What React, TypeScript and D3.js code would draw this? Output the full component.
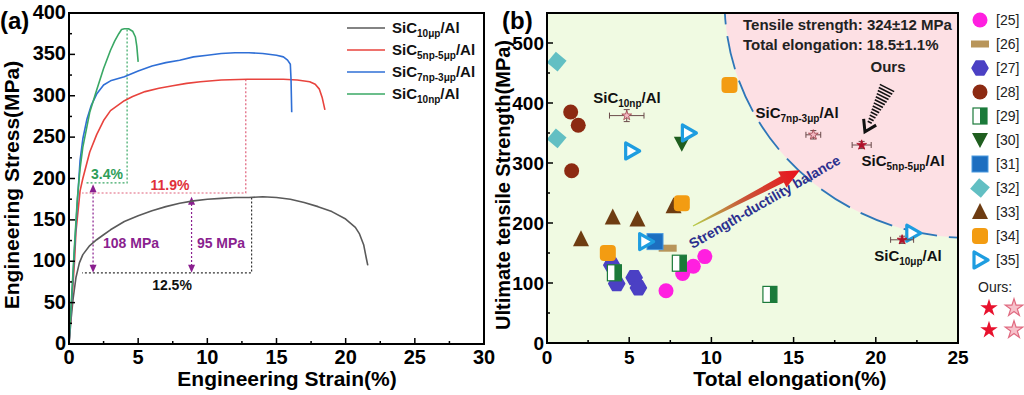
import React from 'react';
import * as d3 from 'd3';

type P = [number, number];

// ---------- Panel (a) data ----------
const strainTicks = [0, 5, 10, 15, 20, 25, 30];
const stressTicks = [0, 50, 100, 150, 200, 250, 300, 350, 400];

const curve10up: P[] = [[0,0],[0.15,30],[0.3,55],[0.5,80],[0.75,98],[1.0,108],[1.5,119],[2,126],[2.5,132],[3,138],[4,148],[5,155],[6,161],[7,166],[8,170],[9,173],[10,175],[11,176],[12,177],[13,177],[14,178],[15,177],[16,175],[17,171],[18,166],[19,160],[20,151],[20.7,141],[21.0,133],[21.3,120],[21.5,103],[21.6,95]];
const curve5np5up: P[] = [[0,0],[0.2,50],[0.4,100],[0.5,135],[0.8,185],[1.0,200],[1.5,232],[2,253],[2.5,270],[3,282],[4,294],[4.6,299],[5.5,305],[6.5,309],[7.5,312],[8.5,315],[9.5,317],[11,319],[12.9,320],[14,320],[15.5,320],[16.5,319],[17.4,317],[17.8,314],[18.1,308],[18.3,298],[18.5,283]];
const curve7np3up: P[] = [[0,0],[0.2,55],[0.4,115],[0.6,170],[0.8,222],[1.0,248],[1.3,272],[1.6,288],[2,302],[2.5,313],[3,318],[4,323],[5,330],[6,336],[7,340],[8,343],[9,347],[10,349],[11,351],[12,352],[13,352],[14,351],[15,349],[15.5,347],[15.8,343],[16.0,338],[16.05,320],[16.1,280]];
const curve10np: P[] = [[0,0],[0.2,60],[0.4,120],[0.6,175],[0.8,212],[1.0,238],[1.5,280],[2,307],[2.5,333],[3,355],[3.3,366],[3.6,375],[3.8,380],[4.0,381],[4.3,381],[4.6,378],[4.8,371],[4.9,360],[5.0,341]];

const seriesA = [
  { main: 'SiC', sub: '10\u03bcp', tail: '/Al', color: '#5a5a5a', data: curve10up },
  { main: 'SiC', sub: '5np-5\u03bcp', tail: '/Al', color: '#e8433d', data: curve5np5up },
  { main: 'SiC', sub: '7np-3\u03bcp', tail: '/Al', color: '#2f6fd6', data: curve7np3up },
  { main: 'SiC', sub: '10np', tail: '/Al', color: '#3aa865', data: curve10np },
];

// ---------- Panel (b) data ----------
const elongTicks = [0, 5, 10, 15, 20, 25];
const utsTicks = [0, 100, 200, 300, 400, 500];

const ref25: P[] = [[7.24,87],[8.25,116],[8.9,128],[9.6,144]];
const ref26: P[] = [[7.34,158]];
const ref27: P[] = [[3.94,130],[4.24,99],[5.3,109],[5.56,92]];
const ref28: P[] = [[1.44,385],[1.9,363],[1.5,287]];
const ref29: P[] = [[4.1,117],[8.05,133],[13.56,81]];
const ref30: P[] = [[8.2,332]];
const ref31: P[] = [[6.57,169]];
const ref32: P[] = [[0.59,469],[0.59,341]];
const ref33: P[] = [[2.07,173],[4.0,209],[5.5,206],[7.7,228]];
const ref34: P[] = [[11.1,430],[8.2,233],[3.7,150]];
const ref35: P[] = [[5.15,320],[8.6,350],[6.0,169],[22.25,183]];

const refs = [
  { label: '[25]', type: 'circleM', data: ref25 },
  { label: '[26]', type: 'bar', data: ref26 },
  { label: '[27]', type: 'hex', data: ref27 },
  { label: '[28]', type: 'circleB', data: ref28 },
  { label: '[29]', type: 'half', data: ref29 },
  { label: '[30]', type: 'down', data: ref30 },
  { label: '[31]', type: 'square', data: ref31 },
  { label: '[32]', type: 'diamond', data: ref32 },
  { label: '[33]', type: 'up', data: ref33 },
  { label: '[34]', type: 'rsquare', data: ref34 },
  { label: '[35]', type: 'right', data: ref35 },
];

const oursElong = [4.85, 16.2, 19.14, 21.6];
const oursElongErr = [1.05, 0.45, 0.58, 0.7];
const oursUts = [379, 347, 330, 172];
const oursUtsErr = [10, 7, 6, 6];
const oursFilled = [false, false, true, true];

const FONT = '"Liberation Sans", Arial, Helvetica, sans-serif';

function Sub({ x, y, main, sub, tail, size = 15, subSize = 10, anchor = 'start' as any, fill = '#111' }: any) {
  return (
    <text x={x} y={y} fontSize={size} fontWeight="bold" textAnchor={anchor} fill={fill}>
      {main}
      <tspan fontSize={subSize} dy={4}>{sub}</tspan>
      <tspan dy={-4}>{tail}</tspan>
    </text>
  );
}

function Marker({ type, cx, cy }: { type: string; cx: number; cy: number }) {
  switch (type) {
    case 'circleM':
      return <circle cx={cx} cy={cy} r={7.5} fill="#ff1fe0" />;
    case 'circleB':
      return <circle cx={cx} cy={cy} r={7.5} fill="#8c2a12" />;
    case 'bar':
      return <rect x={cx - 9} y={cy - 3.5} width={18} height={7} fill="#b8955a" />;
    case 'hex': {
      const pts = d3.range(6).map((i) => {
        const a = (Math.PI / 3) * i;
        return `${cx + 8 * Math.cos(a)},${cy + 8 * Math.sin(a)}`;
      });
      return <polygon points={pts.join(' ')} fill="#4b40c4" stroke="#4b40c4" strokeWidth={1.5} strokeLinejoin="round" />;
    }
    case 'half':
      return (
        <g>
          <rect x={cx - 7} y={cy - 8} width={14} height={16} fill="#fff" stroke="#1b7a3a" strokeWidth={1.2} />
          <rect x={cx} y={cy - 8} width={7} height={16} fill="#1b7a3a" />
        </g>
      );
    case 'down':
      return <polygon points={`${cx - 8},${cy - 7} ${cx + 8},${cy - 7} ${cx},${cy + 8}`} fill="#1f5e1f" />;
    case 'up':
      return <polygon points={`${cx - 8},${cy + 7} ${cx + 8},${cy + 7} ${cx},${cy - 9}`} fill="#6e3c12" />;
    case 'square':
      return <rect x={cx - 8} y={cy - 8} width={16} height={16} fill="#1c6ec0" stroke="#4a9ae0" strokeWidth={1} />;
    case 'diamond':
      return <rect x={cx - 7} y={cy - 7} width={14} height={14} fill="#62bfc3" transform={`rotate(40 ${cx} ${cy})`} />;
    case 'rsquare':
      return <rect x={cx - 8} y={cy - 8} width={16} height={16} rx={4} fill="#f39c12" />;
    case 'right':
      return <polygon points={`${cx - 6},${cy - 8} ${cx - 6},${cy + 8} ${cx + 8},${cy}`} fill="#fff" stroke="#1e9de0" strokeWidth={3.2} strokeLinejoin="round" />;
    default:
      return null;
  }
}

export default function App() {
  const xA = d3.scaleLinear().domain([0, 30]).range([69, 484]);
  const yA = d3.scaleLinear().domain([0, 400]).range([344, 13]);
  const xB = d3.scaleLinear().domain([0, 25]).range([547, 958]);
  const yB = d3.scaleLinear().domain([0, 550]).range([343, 13]);

  const lineA = d3.line<P>().x((d) => xA(d[0])).y((d) => yA(d[1]));

  const minorX = d3.range(2.5, 30, 5);
  const minorYA = d3.range(25, 400, 50);
  const minorXB = d3.range(2.5, 25, 5);
  const minorYB = d3.range(50, 550, 100);

  // strength-ductility arrow
  const S = { x: xB(8.88), y: yB(195) };
  const E = { x: xB(15.39), y: yB(288) };
  const L = Math.hypot(E.x - S.x, E.y - S.y);
  const u = { x: (E.x - S.x) / L, y: (E.y - S.y) / L };
  const n = { x: -u.y, y: u.x };
  const B = { x: E.x - u.x * 20, y: E.y - u.y * 20 };
  const arrowPts = [
    [S.x + n.x * 0.6, S.y + n.y * 0.6],
    [B.x + n.x * 3.5, B.y + n.y * 3.5],
    [B.x + n.x * 9, B.y + n.y * 9],
    [E.x, E.y],
    [B.x - n.x * 9, B.y - n.y * 9],
    [B.x - n.x * 3.5, B.y - n.y * 3.5],
    [S.x - n.x * 0.6, S.y - n.y * 0.6],
  ].map((p) => p.join(',')).join(' ');

  // "Ours" striped arrow
  const OS = { x: xB(20.68), y: yB(425) };
  const OE = { x: xB(19.34), y: yB(352) };
  const OL = Math.hypot(OE.x - OS.x, OE.y - OS.y);
  const ou = { x: (OE.x - OS.x) / OL, y: (OE.y - OS.y) / OL };
  const on = { x: -ou.y, y: ou.x };
  const stripeEnd = OL - 9;
  const stripes = d3.range(0, stripeEnd, 3.2).map((t) => {
    const w = 8 - (t / stripeEnd) * 6;
    const c = { x: OS.x + ou.x * t, y: OS.y + ou.y * t };
    return { x1: c.x + on.x * w, y1: c.y + on.y * w, x2: c.x - on.x * w, y2: c.y - on.y * w };
  });
  const chev = `${OE.x - ou.x * 11 + on.x * 7},${OE.y - ou.y * 11 + on.y * 7} ${OE.x},${OE.y} ${OE.x - ou.x * 11 - on.x * 7},${OE.y - ou.y * 11 - on.y * 7}`;

  const starFilled = d3.symbol(d3.symbolStar, 95)()!;
  const starSmall = d3.symbol(d3.symbolStar, 30)()!;

  const purple = '#8a1f8f';

  return (
    <svg width={1024} height={395} style={{ position: 'absolute', left: 0, top: 0, background: '#fff' }} fontFamily={FONT}>
      <defs>
        <clipPath id="clipB">
          <rect x={xB(0)} y={yB(550)} width={xB(25) - xB(0)} height={yB(0) - yB(550)} />
        </clipPath>
        <linearGradient id="arrowGrad" gradientUnits="userSpaceOnUse" x1={S.x} y1={S.y} x2={E.x} y2={E.y}>
          <stop offset="0" stopColor="#b7cf4a" />
          <stop offset="0.45" stopColor="#c8593a" />
          <stop offset="1" stopColor="#ea111c" />
        </linearGradient>
      </defs>

      {/* ================= Panel (a) ================= */}
      <text x={0} y={29} fontSize={24} fontWeight="bold">(a)</text>

      {/* annotation dotted lines */}
      <g fill="none" strokeWidth={1.2} strokeDasharray="2 2">
        <path d={`M${xA(4.2)},${yA(380)} V${yA(194.6)} H${xA(1.2)}`} stroke="#3aa865" />
        <path d={`M${xA(12.78)},${yA(320)} V${yA(182.5)} H${xA(0.95)}`} stroke="#e0607a" />
        <path d={`M${xA(13.2)},${yA(177)} V${yA(86)} H${xA(0.95)}`} stroke="#333" />
        <line x1={xA(1.74)} x2={xA(1.74)} y1={yA(188)} y2={yA(90)} stroke={purple} />
        <line x1={xA(8.86)} x2={xA(8.86)} y1={yA(174)} y2={yA(90)} stroke={purple} />
      </g>
      <g fill={purple}>
        <polygon points={`${xA(1.74)},${yA(193)} ${xA(1.74) - 3.5},${yA(193) + 8} ${xA(1.74) + 3.5},${yA(193) + 8}`} />
        <polygon points={`${xA(1.74)},${yA(86)} ${xA(1.74) - 3.5},${yA(86) - 8} ${xA(1.74) + 3.5},${yA(86) - 8}`} />
        <polygon points={`${xA(8.86)},${yA(178)} ${xA(8.86) - 3.5},${yA(178) + 8} ${xA(8.86) + 3.5},${yA(178) + 8}`} />
        <polygon points={`${xA(8.86)},${yA(86)} ${xA(8.86) - 3.5},${yA(86) - 8} ${xA(8.86) + 3.5},${yA(86) - 8}`} />
      </g>

      {/* curves */}
      {seriesA.map((s, i) => (
        <path key={i} d={lineA(s.data)!} fill="none" stroke={s.color} strokeWidth={1.6} strokeLinejoin="round" />
      ))}

      {/* annotation texts */}
      <g fontSize={14} fontWeight="bold" textAnchor="middle">
        <text x={107} y={179} fill="#2e9e58">3.4%</text>
        <text x={170} y={190} fill="#e0303a">11.9%</text>
        <text x={131} y={248} fill={purple}>108 MPa</text>
        <text x={221} y={248} fill={purple}>95 MPa</text>
        <text x={172} y={290} fill="#111">12.5%</text>
      </g>

      {/* legend a */}
      {seriesA.map((s, i) => (
        <g key={i}>
          <line x1={347} x2={385} y1={28 + i * 22} y2={28 + i * 22} stroke={s.color} strokeWidth={1.6} />
          <Sub x={392} y={33 + i * 22} main={s.main} sub={s.sub} tail={s.tail} size={15} subSize={10} />
        </g>
      ))}

      {/* axes a */}
      <rect x={xA(0)} y={yA(400)} width={xA(30) - xA(0)} height={yA(0) - yA(400)} fill="none" stroke="#000" strokeWidth={2} />
      <g stroke="#000" strokeWidth={1.5}>
        {strainTicks.map((t) => <line key={'xa' + t} x1={xA(t)} x2={xA(t)} y1={yA(0)} y2={yA(0) - 6} />)}
        {minorX.map((t) => <line key={'mxa' + t} x1={xA(t)} x2={xA(t)} y1={yA(0)} y2={yA(0) - 3} />)}
        {stressTicks.map((t) => <line key={'ya' + t} x1={xA(0)} x2={xA(0) + 6} y1={yA(t)} y2={yA(t)} />)}
        {minorYA.map((t) => <line key={'mya' + t} x1={xA(0)} x2={xA(0) + 3} y1={yA(t)} y2={yA(t)} />)}
      </g>
      <g fontSize={20} fontWeight="bold">
        {strainTicks.map((t) => <text key={t} x={xA(t)} y={364} textAnchor="middle">{t}</text>)}
        {stressTicks.map((t) => <text key={t} x={66} y={yA(t) + 6} textAnchor="end">{t}</text>)}
      </g>
      <text x={287} y={386} fontSize={21} fontWeight="bold" textAnchor="middle">Engineering Strain(%)</text>
      <text transform="translate(19,185) rotate(-90)" fontSize={21} fontWeight="bold" textAnchor="middle">Engineering Stress(MPa)</text>

      {/* ================= Panel (b) ================= */}
      <text x={502} y={29} fontSize={24} fontWeight="bold">(b)</text>
      <g clipPath="url(#clipB)">
        <rect x={xB(0)} y={yB(550)} width={xB(25) - xB(0)} height={yB(0) - yB(550)} fill="#f0fae2" />
        <ellipse cx={xB(25.8)} cy={yB(570)} rx={xB(15) - xB(0)} ry={yB(0) - yB(395)} fill="#fde0e4" stroke="#2e76b8" strokeWidth={1.8} strokeDasharray="34 12" />
      </g>

      <text x={743} y={30} fontSize={15} fontWeight="bold" fill="#222">Tensile strength: 324±12 MPa</text>
      <text x={743} y={50} fontSize={15} fontWeight="bold" fill="#222">Total elongation: 18.5±1.1%</text>
      <text x={888} y={72} fontSize={15} fontWeight="bold" fill="#222" textAnchor="middle">Ours</text>

      {/* striped arrow */}
      <g stroke="#111" strokeWidth={1.6}>
        {stripes.map((s, i) => <line key={i} {...s} />)}
      </g>
      <polyline points={chev} fill="none" stroke="#111" strokeWidth={3} />

      {/* reference markers */}
      {refs.map((r) =>
        r.data.map((d, i) => <Marker key={r.label + i} type={r.type} cx={xB(d[0])} cy={yB(d[1])} />)
      )}

      {/* strength-ductility arrow */}
      <polygon points={arrowPts} fill="url(#arrowGrad)" />
      <text transform={`translate(767,206) rotate(-30)`} fontSize={14} fontWeight="bold" fill="#2b2f8e" textAnchor="middle">Strength-ductility balance</text>

      {/* ours points */}
      {oursElong.map((e, i) => {
        const cx = xB(e), cy = yB(oursUts[i]);
        const x1 = xB(e - oursElongErr[i]), x2 = xB(e + oursElongErr[i]);
        const y1 = yB(oursUts[i] + oursUtsErr[i]), y2 = yB(oursUts[i] - oursUtsErr[i]);
        return (
          <g key={i} stroke="#6a4a4a" strokeWidth={1}>
            <line x1={x1} x2={x2} y1={cy} y2={cy} />
            <line x1={x1} x2={x1} y1={cy - 3} y2={cy + 3} />
            <line x1={x2} x2={x2} y1={cy - 3} y2={cy + 3} />
            <line x1={cx} x2={cx} y1={y1} y2={y2} />
            <line x1={cx - 3} x2={cx + 3} y1={y1} y2={y1} />
            <line x1={cx - 3} x2={cx + 3} y1={y2} y2={y2} />
            <path d={starSmall} transform={`translate(${cx},${cy})`} fill={oursFilled[i] ? '#b0102a' : '#f2b8c2'} stroke={oursFilled[i] ? '#b0102a' : '#a0404a'} strokeWidth={0.8} />
          </g>
        );
      })}
      <Sub x={627} y={103} main="SiC" sub="10np" tail="/Al" anchor="middle" />
      <Sub x={797} y={118} main="SiC" sub={'7np-3\u03bcp'} tail="/Al" anchor="middle" />
      <Sub x={903} y={166} main="SiC" sub={'5np-5\u03bcp'} tail="/Al" anchor="middle" />
      <Sub x={908} y={261} main="SiC" sub={'10\u03bcp'} tail="/Al" anchor="middle" />

      {/* axes b */}
      <rect x={xB(0)} y={yB(550)} width={xB(25) - xB(0)} height={yB(0) - yB(550)} fill="none" stroke="#000" strokeWidth={2} />
      <g stroke="#000" strokeWidth={1.5}>
        {elongTicks.map((t) => <line key={'xb' + t} x1={xB(t)} x2={xB(t)} y1={yB(0)} y2={yB(0) - 6} />)}
        {minorXB.map((t) => <line key={'mxb' + t} x1={xB(t)} x2={xB(t)} y1={yB(0)} y2={yB(0) - 3} />)}
        {utsTicks.map((t) => <line key={'yb' + t} x1={xB(0)} x2={xB(0) + 6} y1={yB(t)} y2={yB(t)} />)}
        {minorYB.map((t) => <line key={'myb' + t} x1={xB(0)} x2={xB(0) + 3} y1={yB(t)} y2={yB(t)} />)}
      </g>
      <g fontSize={19} fontWeight="bold">
        {elongTicks.map((t) => <text key={t} x={xB(t)} y={364} textAnchor="middle">{t}</text>)}
        {utsTicks.map((t) => <text key={t} x={544} y={yB(t) + 7} textAnchor="end">{t}</text>)}
      </g>
      <text x={790} y={386} fontSize={21} fontWeight="bold" textAnchor="middle">Total elongation(%)</text>
      <text transform="translate(510,185) rotate(-90)" fontSize={20} fontWeight="bold" textAnchor="middle">Ultimate tensile Strength(MPa)</text>

      {/* legend b */}
      {refs.map((r, i) => (
        <g key={r.label}>
          <Marker type={r.type} cx={980} cy={20 + i * 24} />
          <text x={996} y={25 + i * 24} fontSize={14} fill="#222">{r.label}</text>
        </g>
      ))}
      <text x={978} y={292} fontSize={14} fill="#222">Ours:</text>
      {[308, 330].map((yy) => (
        <g key={yy}>
          <path d={starFilled} transform={`translate(989,${yy})`} fill="#e8112d" />
          <path d={starFilled} transform={`translate(1014,${yy})`} fill="#f7c2cb" stroke="#e06a80" strokeWidth={1.2} />
        </g>
      ))}
    </svg>
  );
}
